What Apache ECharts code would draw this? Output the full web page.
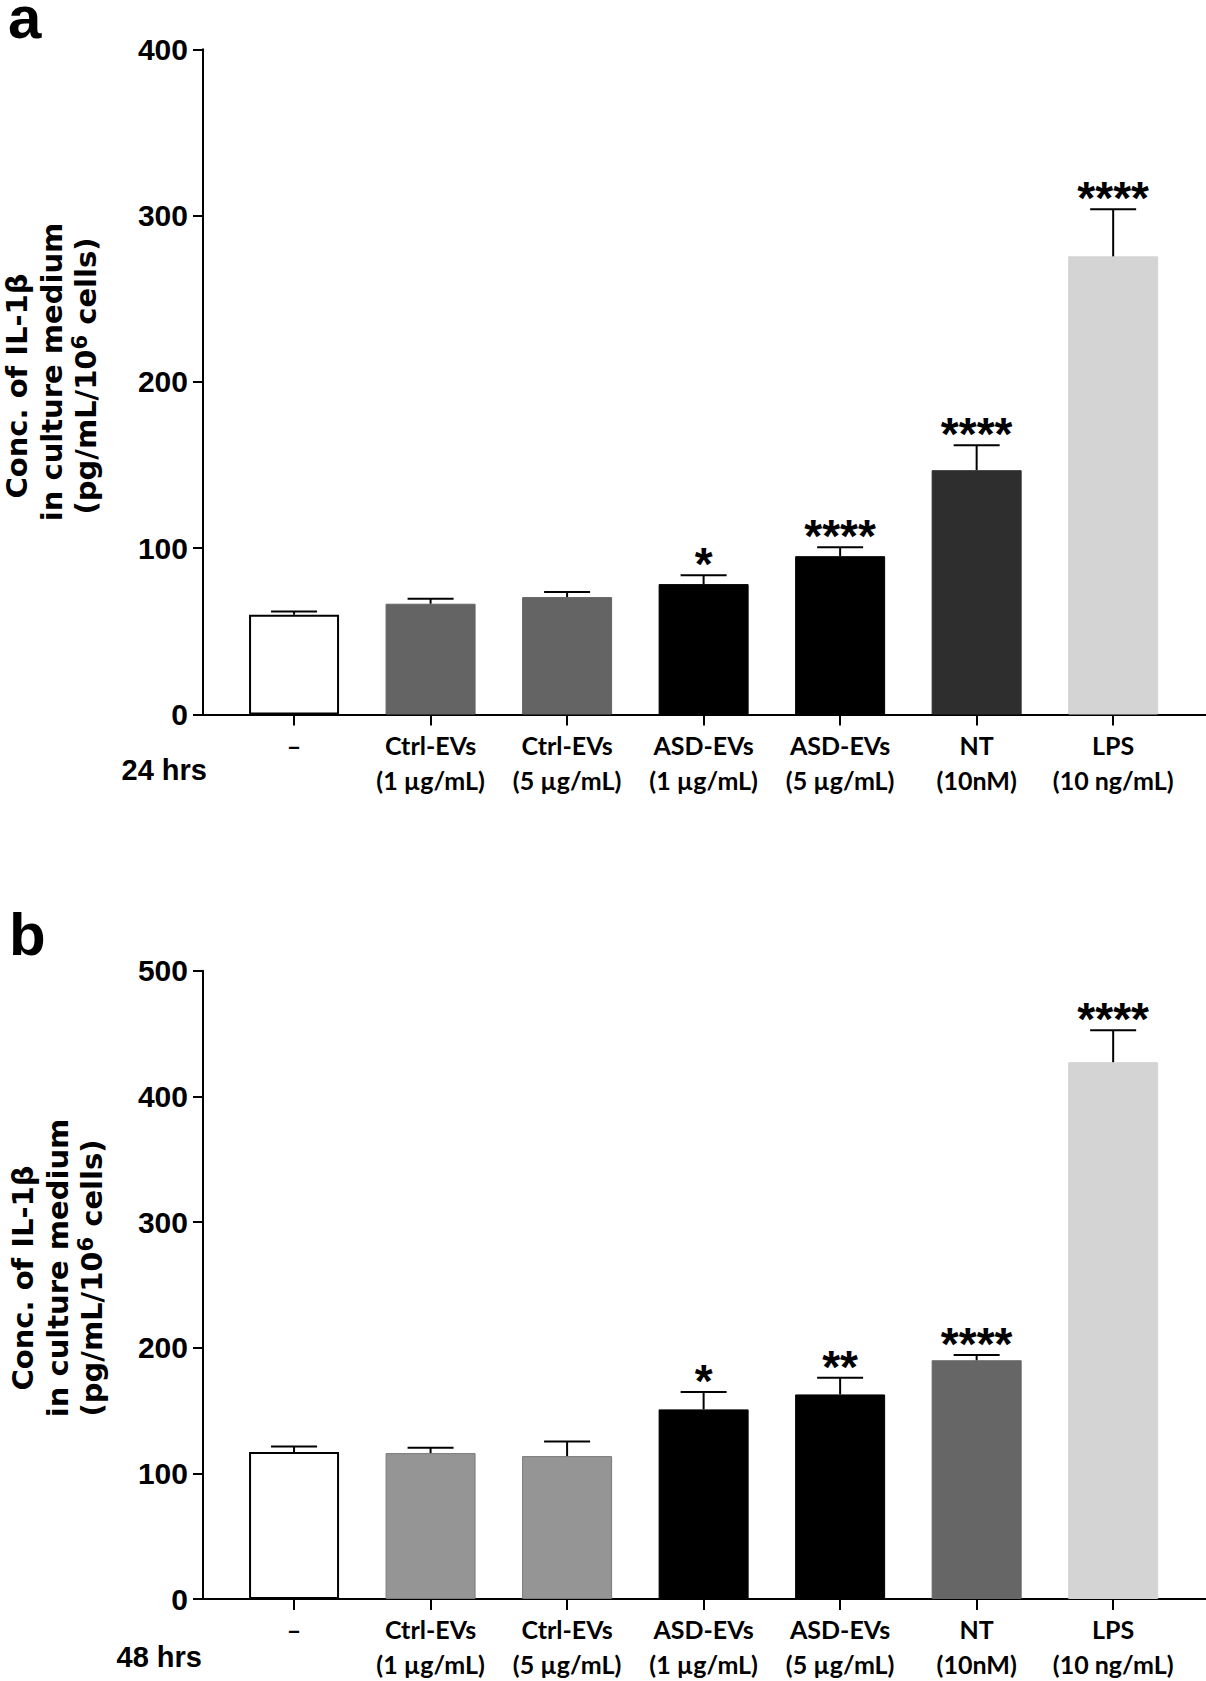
<!DOCTYPE html>
<html>
<head>
<meta charset="utf-8">
<script src="https://cdn.jsdelivr.net/npm/echarts@6/dist/echarts.min.js"></script>
<style>
  html, body { margin: 0; padding: 0; background: #fff; }
  #chart { width: 1206px; height: 1681px; }
</style>
</head>
<body>
<div id="chart"></div>
<script>
// ---- data ----
const categories = ['–', 'Ctrl-EVs\n(1 µg/mL)', 'Ctrl-EVs\n(5 µg/mL)', 'ASD-EVs\n(1 µg/mL)', 'ASD-EVs\n(5 µg/mL)', 'NT\n(10nM)', 'LPS\n(10 ng/mL)'];
const mean24 = [60, 66.6, 70.6, 78.4, 95.2, 146.9, 275.5];
const sem24 = [2, 3, 3, 5.4, 5.3, 15, 28.3];
const sig24 = ['', '', '', '*', '****', '****', '****'];
const mean48 = [116.9, 116.1, 113.7, 150.9, 162.8, 190, 427.2];
const sem48 = [4.5, 4.2, 11.6, 13.8, 13.2, 4.2, 25.4];
const sig48 = ['', '', '', '*', '**', '****', '****'];
const yMax24 = 400, yMax48 = 500, yStep = 100;
const timeLabels = ['24 hrs', '48 hrs'];
const panelLetters = ['a', 'b'];
const yTitle = ['Conc. of IL-1β', 'in culture medium', '(pg/mL/10', '6', ' cells)'];

// ---- styles ----
const fill24 = ['#ffffff', '#646464', '#646464', '#000000', '#000000', '#2e2e2e', '#d4d4d4'];
const edge24 = ['#000000', '#646464', '#646464', '#000000', '#000000', '#2e2e2e', '#d4d4d4'];
const fill48 = ['#ffffff', '#959595', '#959595', '#000000', '#000000', '#666666', '#d4d4d4'];
const edge48 = ['#000000', '#7a7a7a', '#7a7a7a', '#000000', '#000000', '#666666', '#d4d4d4'];

const catIdx = categories.map((_, i) => i);
const ARIAL = "'Liberation Sans', Arial, sans-serif";
const NARROW = "'Liberation Sans Narrow', 'Arial Narrow', 'Liberation Sans', sans-serif";
const LATO = "Lato, 'Open Sans', sans-serif";
const DEJAVU = "'DejaVu Sans', sans-serif";

function xAxisFor(g) {
  return {
    gridIndex: g, type: 'value', min: -0.667, max: 6.68,
    axisLine: { show: true, onZero: false, lineStyle: { color: '#000', width: 2 } },
    axisTick: { show: true, customValues: catIdx, length: 11, lineStyle: { color: '#000', width: 2 } },
    axisLabel: {
      customValues: catIdx, formatter: v => categories[Math.round(v)],
      margin: g === 0 ? 13 : 12, lineHeight: 35, fontFamily: LATO, fontWeight: 'bold', fontSize: 25, color: '#000'
    },
    splitLine: { show: false }
  };
}
function yAxisFor(g, max) {
  return {
    gridIndex: g, type: 'value', min: 0, max: max, interval: yStep,
    axisLine: { show: true, onZero: false, lineStyle: { color: '#000', width: 2 } },
    axisTick: { show: true, length: 10, lineStyle: { color: '#000', width: 2 } },
    axisLabel: { margin: 15, fontFamily: NARROW, fontWeight: 'bold', fontSize: 30, color: '#000' },
    splitLine: { show: false }
  };
}
function barSeries(g, means, fills, edges) {
  return {
    type: 'bar', xAxisIndex: g, yAxisIndex: g, barWidth: 90, z: 2,
    data: means.map((v, i) => ({
      value: [i, v],
      itemStyle: { color: fills[i], borderColor: edges[i], borderWidth: i === 0 ? 2 : 1 }
    }))
  };
}
function errSeries(g, means, sems, sigs) {
  return {
    type: 'custom', xAxisIndex: g, yAxisIndex: g, z: 3,
    data: means.map((v, i) => [i, v, sems[i]]),
    encode: { x: 0, y: 1 },
    renderItem: function (params, api) {
      const x = api.value(0), m = api.value(1), e = api.value(2);
      const base = api.coord([x, m]);
      const top = api.coord([x, m + e]);
      const half = 23;
      const children = [
        { type: 'line', shape: { x1: base[0], y1: base[1], x2: top[0], y2: top[1] }, style: { stroke: '#000', lineWidth: 2 } },
        { type: 'line', shape: { x1: top[0] - half, y1: top[1], x2: top[0] + half, y2: top[1] }, style: { stroke: '#000', lineWidth: 2 } }
      ];
      const s = sigs[params.dataIndex];
      if (s) {
        children.push({
          type: 'text',
          style: { text: s, x: top[0], y: top[1] - 11, align: 'center', verticalAlign: 'middle',
                   fill: '#000', fontFamily: ARIAL, fontWeight: 'bold', fontSize: 46 }
        });
      }
      return { type: 'group', children: children };
    }
  };
}
function yTitleGraphics(xs, ys) {
  const base = { fill: '#000', fontFamily: DEJAVU, fontWeight: 'bold', fontSize: 29, align: 'center', verticalAlign: 'middle' };
  return [
    { type: 'text', x: xs[0], y: ys[0], rotation: Math.PI / 2, style: Object.assign({}, base, { text: yTitle[0] }) },
    { type: 'text', x: xs[1], y: ys[1], rotation: Math.PI / 2, style: Object.assign({}, base, { text: yTitle[1] }) },
    { type: 'text', x: xs[2], y: ys[2], rotation: Math.PI / 2, style: Object.assign({}, base, {
        text: '{a|' + yTitle[2] + '}{s|' + yTitle[3] + '}{a|' + yTitle[4] + '}',
        rich: {
          a: { fontFamily: DEJAVU, fontWeight: 'bold', fontSize: 29, lineHeight: 34, fill: '#000' },
          s: { fontFamily: DEJAVU, fontWeight: 'bold', fontSize: 21, lineHeight: 34, verticalAlign: 'top', fill: '#000' }
        }
      }) }
  ];
}

const chart = echarts.init(document.getElementById('chart'), null, { renderer: 'svg' });
chart.setOption({
  animation: false,
  backgroundColor: '#ffffff',
  grid: [
    { left: 203, top: 49.3, width: 1003, height: 665.2 },
    { left: 203, top: 970.7, width: 1003, height: 631.6 }
  ],
  xAxis: [xAxisFor(0), xAxisFor(1)],
  yAxis: [yAxisFor(0, yMax24), yAxisFor(1, yMax48)],
  series: [
    barSeries(0, mean24, fill24, edge24),
    errSeries(0, mean24, sem24, sig24),
    barSeries(1, mean48, fill48, edge48),
    errSeries(1, mean48, sem48, sig48)
  ],
  graphic: [
    { type: 'text', x: 8, y: 17, style: { text: panelLetters[0], fill: '#000', fontFamily: ARIAL, fontWeight: 'bold', fontSize: 60, lineHeight: 34, verticalAlign: 'middle' } },
    { type: 'text', x: 9, y: 934, style: { text: panelLetters[1], fill: '#000', fontFamily: ARIAL, fontWeight: 'bold', fontSize: 60, lineHeight: 60, verticalAlign: 'middle' } },
    { type: 'text', x: 207, y: 770, style: { text: timeLabels[0], fill: '#000', fontFamily: ARIAL, fontWeight: 'bold', fontSize: 29, align: 'right', verticalAlign: 'middle' } },
    { type: 'text', x: 202, y: 1657, style: { text: timeLabels[1], fill: '#000', fontFamily: ARIAL, fontWeight: 'bold', fontSize: 29, align: 'right', verticalAlign: 'middle' } }
  ].concat(yTitleGraphics([17, 52, 86], [386, 372, 376]))
   .concat(yTitleGraphics([23, 58, 92], [1278, 1268, 1278]))
});
</script>
</body>
</html>
